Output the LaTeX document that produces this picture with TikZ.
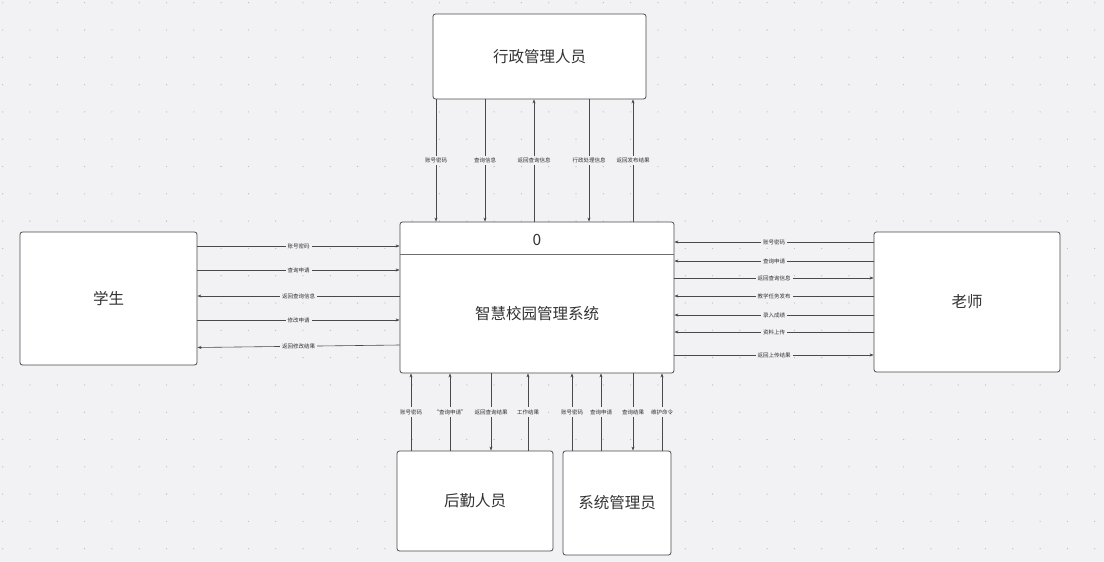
\documentclass[tikz,border=0pt]{standalone}
\usepackage{fontspec}
\setmainfont{Noto Sans CJK SC}
\usetikzlibrary{arrows.meta}
\definecolor{bg}{HTML}{F2F2F4}
\definecolor{dotc}{HTML}{BDBDC2}
\definecolor{edge}{HTML}{4A4A4A}
\definecolor{txt}{HTML}{333333}
\begin{document}
\begin{tikzpicture}[x=1pt,y=-1pt,
  box/.style={draw=edge, line width=0.8pt, fill=white, rounded corners=2.5pt, inner sep=0pt},
  big/.style={font=\fontsize{15.5}{17}\selectfont, text=txt},
  flow/.style={draw=edge, line width=0.6pt, -{Stealth[length=4pt,width=3pt]}},
  lbl/.style={fill=bg, font=\fontsize{5.5}{6.5}\selectfont, text=txt, inner sep=2pt}]
\fill[bg] (0,0) rectangle (1104,562);
\useasboundingbox (0,0) rectangle (1104,562);
\foreach \i in {0,...,40} \foreach \j in {0,...,20} \fill[dotc] (2.7+27.3*\i, 2.7+27.3*\j) circle (0.65);
% boxes
\node[box, minimum width=213pt, minimum height=85pt] (admin) at (539.5,56.5) {};
\node[big] (admintxt) at (admin.center) {行政管理人员};
\node[box, minimum width=274pt, minimum height=151pt] (sys) at (537,297.5) {};
\draw[draw=edge!80, line width=1.1pt] (sys.west |- 0,254.5) -- (sys.east |- 0,254.5);
\node[big] (sysid) at (537,240) {0};
\node[big] (systxt) at (537,314) {智慧校园管理系统};
\node[box, minimum width=177pt, minimum height=133pt] (stu) at (108.5,298.5) {};
\node[big] (stutxt) at (stu.center) {学生};
\node[box, minimum width=186pt, minimum height=140pt] (tea) at (967,302) {};
\node[big] (teatxt) at (tea.center) {老师};
\node[box, minimum width=156pt, minimum height=100pt] (log) at (475,501) {};
\node[big] (logtxt) at (log.center) {后勤人员};
\node[box, minimum width=108pt, minimum height=104pt] (sadm) at (617,503) {};
\node[big] (sadmtxt) at (sadm.center) {系统管理员};
% top flows
\draw[flow] (admin.south -| 436,0) -- node[lbl]{账号密码} (sys.north -| 436,0);
\draw[flow] (admin.south -| 485,0) -- node[lbl]{查询信息} (sys.north -| 485,0);
\draw[flow] (sys.north -| 534,0) -- node[lbl]{返回查询信息} (admin.south -| 534,0);
\draw[flow] (admin.south -| 589,0) -- node[lbl]{行政处理信息} (sys.north -| 589,0);
\draw[flow] (sys.north -| 633,0) -- node[lbl]{返回发布结果} (admin.south -| 633,0);
% left flows
\draw[flow] (stu.east |- 0,246) -- node[lbl]{账号密码} (sys.west |- 0,246);
\draw[flow] (stu.east |- 0,270) -- node[lbl]{查询申请} (sys.west |- 0,270);
\draw[flow] (sys.west |- 0,296) -- node[lbl]{返回查询信息} (stu.east |- 0,296);
\draw[flow] (stu.east |- 0,320) -- node[lbl]{修改申请} (sys.west |- 0,320);
\draw[flow] (sys.west |- 0,345) -- node[lbl]{返回修改结果} (stu.east |- 0,347.5);
% right flows
\draw[flow] (tea.west |- 0,242) -- node[lbl]{账号密码} (sys.east |- 0,242);
\draw[flow] (tea.west |- 0,261) -- node[lbl]{查询申请} (sys.east |- 0,261);
\draw[flow] (sys.east |- 0,278) -- node[lbl]{返回查询信息} (tea.west |- 0,278);
\draw[flow] (tea.west |- 0,296) -- node[lbl]{教学任务发布} (sys.east |- 0,296);
\draw[flow] (tea.west |- 0,315) -- node[lbl]{录入成绩} (sys.east |- 0,315);
\draw[flow] (tea.west |- 0,332) -- node[lbl]{资料上传} (sys.east |- 0,332);
\draw[flow] (sys.east |- 0,355) -- node[lbl]{返回上传结果} (tea.west |- 0,355);
% bottom flows
\draw[flow] (log.north -| 411,0) -- node[lbl]{账号密码} (sys.south -| 411,0);
\draw[flow] (log.north -| 450,0) -- node[lbl]{“查询申请”} (sys.south -| 450,0);
\draw[flow] (sys.south -| 491,0) -- node[lbl]{返回查询结果} (log.north -| 491,0);
\draw[flow] (log.north -| 528,0) -- node[lbl]{工作结果} (sys.south -| 528,0);
\draw[flow] (sadm.north -| 572,0) -- node[lbl]{账号密码} (sys.south -| 572,0);
\draw[flow] (sadm.north -| 601,0) -- node[lbl]{查询申请} (sys.south -| 601,0);
\draw[flow] (sys.south -| 633,0) -- node[lbl]{查询结果} (sadm.north -| 633,0);
\draw[flow] (sadm.north -| 662,0) -- node[lbl]{维护命令} (sys.south -| 662,0);
\end{tikzpicture}
\end{document}
